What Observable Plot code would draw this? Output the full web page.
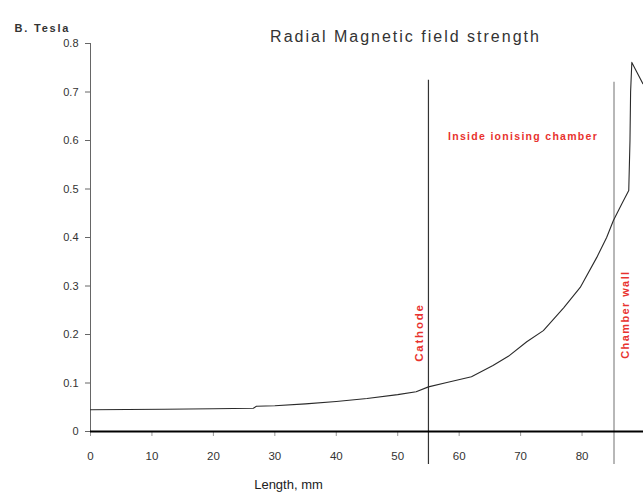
<!DOCTYPE html>
<html>
<head>
<meta charset="utf-8">
<script src="https://cdn.jsdelivr.net/npm/d3@7"></script>
<script src="https://cdn.jsdelivr.net/npm/@observablehq/plot@0.6"></script>
<style>
  html, body { margin: 0; padding: 0; background: #fff; }
  #chart svg { display: block; }
</style>
</head>
<body>
<div id="chart"></div>
<script>
// Radial magnetic field strength (B, Tesla) along length (mm)
const lengthMm = [0, 12, 20, 26.5, 27, 30, 35, 40, 45, 50, 53, 55, 58, 62, 65.5, 68, 71, 73.7, 77, 79.7, 82.4, 84, 85.1, 86.5, 87.6, 87.8, 87.9, 88.1, 89.9];
const fieldT   = [0.045, 0.046, 0.047, 0.048, 0.052, 0.053, 0.057, 0.062, 0.068, 0.076, 0.082, 0.092, 0.101, 0.113, 0.136, 0.155, 0.185, 0.208, 0.255, 0.297, 0.359, 0.40, 0.435, 0.47, 0.497, 0.60, 0.70, 0.761, 0.717];

// Marker lines: cathode and chamber wall positions (mm)
const markerNames = ["Cathode", "Chamber wall"];
const markerX     = [55, 85.2];
const markerTop   = [0.724, 0.72];
const markerBot   = [-0.068, -0.068];
const markerColor = ["#333333", "#888888"];
const markerLabelY  = [0.204, 0.241];

const xTicks = [0, 10, 20, 30, 40, 50, 60, 70, 80];
const yTicks = [0, 0.1, 0.2, 0.3, 0.4, 0.5, 0.6, 0.7, 0.8];

const title = "Radial Magnetic field strength";
const yLabel = "B. Tesla";
const xLabel = "Length, mm";
const regionLabel = "Inside ionising chamber";

// Letter spacing (px) for the spaced-out labels
const spacing = new Map([
  [title, 2], [yLabel, 1.8], [regionLabel, 1.3], ["Cathode", 1.8], ["Chamber wall", 1.4]
]);

const curve = lengthMm.map((x, i) => ({x, y: fieldT[i]}));
const markers = markerNames.map((name, i) => ({
  name, x: markerX[i], y1: markerBot[i], y2: markerTop[i], color: markerColor[i],
  ly: markerLabelY[i]
}));

const red = "#e8322e";

const chart = Plot.plot({
  width: 643,
  height: 494,
  marginLeft: 90,
  marginRight: 0,
  marginTop: 43,
  marginBottom: 63,
  style: {fontFamily: "'Liberation Sans', Arial, sans-serif", fontSize: "11px", color: "#222", background: "#fff"},
  x: {domain: [0, 90]},
  y: {domain: [0, 0.8]},
  marks: [
    // y axis line and ticks
    Plot.ruleX([0], {y1: 0, y2: 0.8, stroke: "#666", strokeWidth: 1}),
    Plot.axisY({
      ticks: yTicks, tickSize: 5, tickPadding: 7, stroke: "#666",
      tickFormat: d => d === 0 ? "0" : d.toFixed(1),
      label: null, fontSize: 11, fill: "#333"
    }),
    // x axis ticks
    Plot.axisX({
      ticks: xTicks, tickSize: 5, tickPadding: 15, stroke: "#999",
      tickFormat: d => String(d), label: null, fontSize: 11.5, fill: "#333"
    }),
    // marker lines
    Plot.ruleX(markers, {x: "x", y1: "y1", y2: "y2", stroke: "color", strokeWidth: 1.2}),
    // field curve
    Plot.line(curve, {x: "x", y: "y", stroke: "#2a2a2a", strokeWidth: 1.1}),
    // x axis baseline
    Plot.ruleY([0], {stroke: "#000", strokeWidth: 2}),
    // marker labels
    Plot.text(markers.slice(0, 1), {
      x: "x", y: "ly", text: "name", rotate: -90, dx: -9, fill: red,
      fontWeight: "bold", fontSize: 11.5
    }),
    Plot.text(markers.slice(1), {
      x: "x", y: "ly", text: "name", rotate: -90, dx: 11, fill: red,
      fontWeight: "bold", fontSize: 11
    }),
    Plot.text([regionLabel], {
      x: 70.4, y: 0.607, text: d => d, fill: red,
      fontWeight: "bold", fontSize: 10.5
    }),
    // titles
    Plot.text([title], {
      frameAnchor: "top-left", dx: 315, dy: -13, text: d => d,
      textAnchor: "middle", fontSize: 16, fill: "#333"
    }),
    Plot.text([yLabel], {
      frameAnchor: "top-left", dx: -76, dy: -19, text: d => d,
      textAnchor: "start", fontSize: 11, fontWeight: "bold", fill: "#333"
    }),
    Plot.text([xLabel], {
      frameAnchor: "bottom-left", dx: 198, dy: 57, text: d => d,
      textAnchor: "middle", fontSize: 13, fill: "#222",
      fontFamily: "'Liberation Sans Narrow', 'Liberation Sans', sans-serif"
    })
  ]
});

d3.select(chart).selectAll("text").each(function () {
  const s = spacing.get(this.textContent);
  if (s != null) this.style.letterSpacing = s + "px";
});

document.getElementById("chart").appendChild(chart);
</script>
</body>
</html>
